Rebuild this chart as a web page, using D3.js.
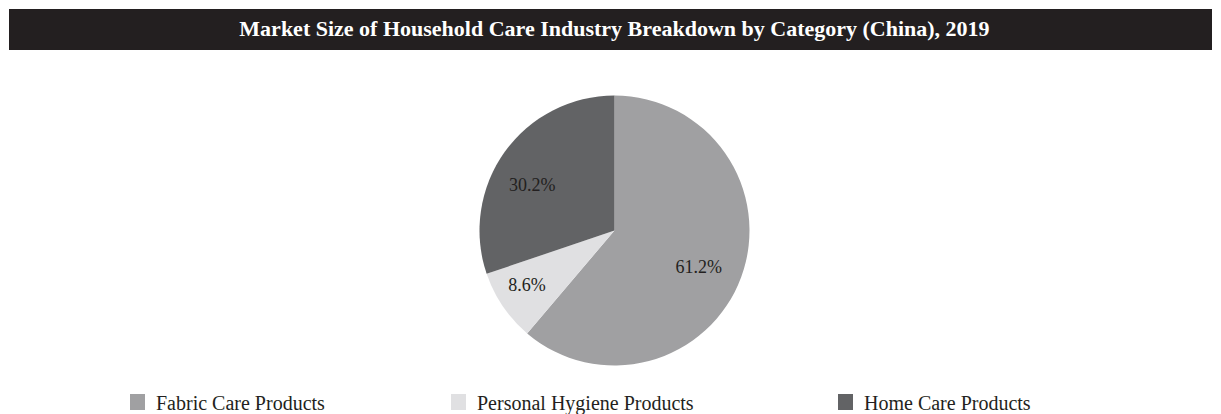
<!DOCTYPE html>
<html>
<head>
<meta charset="utf-8">
<script src="https://cdn.jsdelivr.net/npm/d3@7"></script>
<style>
  body { margin: 0; background: #fff; }
  svg { display: block; font-family: "Liberation Serif", "Times New Roman", serif; }
</style>
</head>
<body>
<div id="chart"></div>
<script>
  // chart data
  let title = "Market Size of Household Care Industry Breakdown by Category (China), 2019";
  let categories = ["Fabric Care Products", "Personal Hygiene Products", "Home Care Products"];
  let shares = [61.2, 8.6, 30.2];
  let colors = ["#a0a0a2", "#e0e0e2", "#626365"];

  let width = 1221, height = 414;

  let svg = d3.select("#chart")
    .append("svg")
      .attr("width", width)
      .attr("height", height);

  // title bar
  svg.append("rect")
    .attr("x", 9)
    .attr("y", 9)
    .attr("width", width - 18)
    .attr("height", 41)
    .attr("fill", "#231f20");

  svg.append("text")
    .attr("x", 614.5)
    .attr("y", 35.5)
    .attr("text-anchor", "middle")
    .attr("fill", "#fff")
    .style("font-size", "22px")
    .style("font-weight", "bold")
    .text(title);

  // pie
  let radius = 135;
  let g = svg.append("g")
    .attr("transform", "translate(614.5, 230.5)");

  let pie = d3.pie().sort(null).value((d) => d);
  let arcs = pie(shares);

  let arc = d3.arc().innerRadius(0).outerRadius(radius);

  g.selectAll("path")
    .data(arcs)
    .enter()
    .append("path")
      .attr("d", arc)
      .attr("fill", (d, i) => colors[i]);

  // labels - nudged from the centroid like excel does
  let labelArc = d3.arc().innerRadius(radius * 0.65).outerRadius(radius * 0.65);
  let nudge = [[2, 12], [-15, 11], [-11, 12]];

  g.selectAll(".lbl")
    .data(arcs)
    .enter()
    .append("text")
      .attr("class", "lbl")
      .attr("x", (d, i) => labelArc.centroid(d)[0] + nudge[i][0])
      .attr("y", (d, i) => labelArc.centroid(d)[1] + nudge[i][1])
      .attr("text-anchor", "middle")
      .attr("fill", "#231f20")
      .style("font-size", "18px")
      .text((d) => d.data.toFixed(1) + "%");

  // legend
  let legendX = [130, 451, 838];
  let legend = svg.selectAll(".legend")
    .data(categories)
    .enter()
    .append("g")
      .attr("class", "legend")
      .attr("transform", (d, i) => "translate(" + legendX[i] + ", 394)");

  legend.append("rect")
    .attr("width", 15)
    .attr("height", 16)
    .attr("fill", (d, i) => colors[i]);

  legend.append("text")
    .attr("x", 26)
    .attr("y", 16)
    .attr("fill", "#231f20")
    .style("font-size", "20px")
    .text((d) => d);
</script>
</body>
</html>
